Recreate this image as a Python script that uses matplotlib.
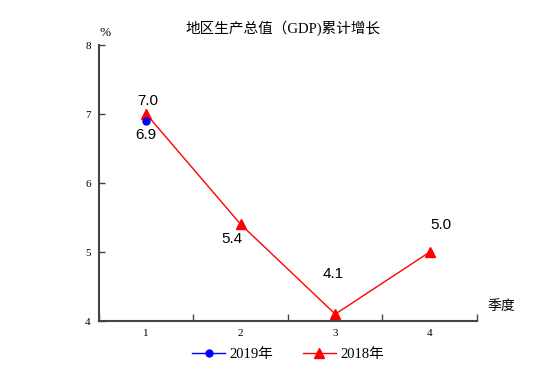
import matplotlib
matplotlib.use('Agg')
import matplotlib.pyplot as plt
from matplotlib.ticker import FixedLocator

plt.rcParams['font.family'] = ['Liberation Serif', 'Noto Sans CJK SC']

# 数据
quarters = [1, 2, 3, 4]
gdp_2019 = [6.9]
gdp_2018 = [7.0, 5.4, 4.1, 5.0]
labels_2019 = ['6.9']
labels_2018 = ['7.0', '5.4', '4.1', '5.0']

fig = plt.figure(figsize=(5.54, 3.87), dpi=100)
ax = fig.add_axes([0.1787, 0.1705, 0.6823, 0.7132])

ax.plot(quarters[:len(gdp_2019)], gdp_2019, color='blue', marker='o', markersize=5,
        linewidth=1, label='2019年', zorder=3)
ax.plot(quarters, gdp_2018, color='red', marker='^', markersize=6.5,
        linewidth=1, label='2018年', zorder=2)

# 数据标签 (偏移量, 像素)
offsets_2018 = [(2, 13), (-9, -15), (-2, 40), (11, 27)]
for x, y, s, off in zip(quarters, gdp_2018, labels_2018, offsets_2018):
    ax.annotate(s, (x, y), xytext=off, textcoords='offset pixels', ha='center', va='center',
                fontsize=11, family=['Liberation Sans', 'Noto Sans CJK SC'])
for x, y, s in zip(quarters, gdp_2019, labels_2019):
    ax.annotate(s, (x, y), xytext=(0, -14), textcoords='offset pixels', ha='center', va='center',
                fontsize=11, family=['Liberation Sans', 'Noto Sans CJK SC'])

ax.set_xlim(0.5, 4.5)
ax.set_ylim(4, 8)
ax.set_yticks([4, 5, 6, 7, 8])
ax.set_xticks(quarters)
ax.xaxis.set_minor_locator(FixedLocator([0.5, 1.5, 2.5, 3.5, 4.5]))
ax.tick_params(axis='x', which='major', length=0, labelsize=8, pad=6)
ax.tick_params(axis='x', which='minor', direction='in', length=5, width=1, color='#444444')
ax.tick_params(axis='y', direction='in', length=4, width=1, labelsize=8, pad=6, color='#444444')

for side in ['top', 'right']:
    ax.spines[side].set_visible(False)
for side in ['left', 'bottom']:
    ax.spines[side].set_linewidth(1.5)
    ax.spines[side].set_color('#444444')

fig.text(0.511, 0.928, '地区生产总值（GDP)累计增长', ha='center', va='center', fontsize=10.5)
fig.text(0.19, 0.915, '%', ha='center', va='center', fontsize=9.5)
fig.text(0.879, 0.209, '季度', ha='left', va='center', fontsize=10)

fig.legend(loc='center', bbox_to_anchor=(0.52, 0.085), ncol=2, frameon=False,
           fontsize=10.5, handlelength=2.3, columnspacing=2, handletextpad=0.3)

fig.savefig('out.png', dpi=100)
